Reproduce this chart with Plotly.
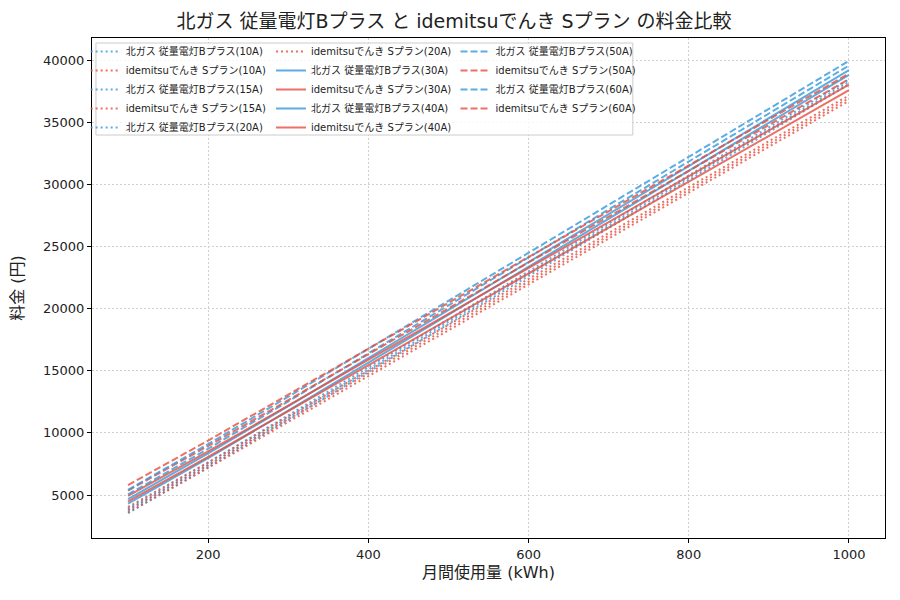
import plotly.graph_objects as go

# 月間使用量 (kWh)
usage = [100, 200, 300, 400, 500, 600, 700, 800, 900, 1000]

# 北ガス 従量電灯Bプラス (円)
kitagas_10a = [3550, 7225, 11037, 14897, 18757, 22617, 26477, 30337, 34197, 38057]
kitagas_15a = [3737, 7412, 11224, 15084, 18944, 22804, 26664, 30524, 34384, 38244]
kitagas_20a = [3924, 7599, 11411, 15271, 19131, 22991, 26851, 30711, 34571, 38431]
kitagas_30a = [4298, 7973, 11785, 15645, 19505, 23365, 27225, 31085, 34945, 38805]
kitagas_40a = [4672, 8347, 12159, 16019, 19879, 23739, 27599, 31459, 35319, 39179]
kitagas_50a = [5046, 8721, 12533, 16393, 20253, 24113, 27973, 31833, 35693, 39553]
kitagas_60a = [5420, 9095, 12907, 16767, 20627, 24487, 28347, 32207, 36067, 39927]

# idemitsuでんき Sプラン (円)
idemitsu_10a = [3600, 7184, 10874, 14564, 18254, 21944, 25634, 29324, 33014, 36704]
idemitsu_15a = [3820, 7404, 11094, 14784, 18474, 22164, 25854, 29544, 33234, 36924]
idemitsu_20a = [4040, 7624, 11314, 15004, 18694, 22384, 26074, 29764, 33454, 37144]
idemitsu_30a = [4480, 8064, 11754, 15444, 19134, 22824, 26514, 30204, 33894, 37584]
idemitsu_40a = [4920, 8504, 12194, 15884, 19574, 23264, 26954, 30644, 34334, 38024]
idemitsu_50a = [5360, 8944, 12634, 16324, 20014, 23704, 27394, 31084, 34774, 38464]
idemitsu_60a = [5800, 9384, 13074, 16764, 20454, 24144, 27834, 31524, 35214, 38904]

amps = ["10A", "15A", "20A", "30A", "40A", "50A", "60A"]
kitagas = [kitagas_10a, kitagas_15a, kitagas_20a, kitagas_30a, kitagas_40a, kitagas_50a, kitagas_60a]
idemitsu = [idemitsu_10a, idemitsu_15a, idemitsu_20a, idemitsu_30a, idemitsu_40a, idemitsu_50a, idemitsu_60a]

BLUE = "rgba(52,152,219,0.8)"
RED = "rgba(231,76,60,0.8)"
FONT = "DejaVu Sans, Noto Sans CJK JP, sans-serif"


def dash_for(amp):
    if amp in ("10A", "15A", "20A"):
        return "2px,3px"
    if amp in ("30A", "40A"):
        return "solid"
    return "7px,3px"


fig = go.Figure()

n = 0
for amp, kg, ide in zip(amps, kitagas, idemitsu):
    for name, vals, color in [
        (f"北ガス 従量電灯Bプラス({amp})", kg, BLUE),
        (f"idemitsuでんき Sプラン({amp})", ide, RED),
    ]:
        # legend split into three columns, 5 / 5 / 4 entries
        leg = "legend" if n < 5 else ("legend2" if n < 10 else "legend3")
        fig.add_trace(go.Scatter(
            x=usage, y=vals, mode="lines", name=name,
            line=dict(color=color, width=2, dash=dash_for(amp)),
            legend=leg,
        ))
        n += 1

legend_style = dict(
    yanchor="top", y=1.002, xanchor="left",
    bgcolor="rgba(0,0,0,0)", borderwidth=0,
    font=dict(family=FONT, size=10, color="#222"),
    tracegroupgap=0,
)

axis_common = dict(
    showline=True, linecolor="black", linewidth=1, mirror=True,
    ticks="outside", ticklen=4, tickcolor="black",
    showgrid=True, gridcolor="#d0d0d0", gridwidth=0.8, griddash="2px,2px",
    zeroline=False, automargin=False, tickformat="d",
    tickfont=dict(family=FONT, size=13, color="#222"),
)

# the page adds an 8px body margin, so the figure is drawn 8px smaller
fig.update_layout(
    width=892, height=592,
    margin=dict(l=84, r=15, t=30, b=62),
    paper_bgcolor="white", plot_bgcolor="white",
    font=dict(family=FONT, color="#222"),
    title=dict(
        text="北ガス 従量電灯Bプラス と idemitsuでんき Sプラン の料金比較",
        x=0.5, xanchor="center", y=0.978, yanchor="middle",
        font=dict(family=FONT, size=19, color="#222"),
    ),
    xaxis=dict(
        range=[55, 1045], tickvals=[200, 400, 600, 800, 1000],
        title=dict(text="月間使用量 (kWh)", standoff=6,
                   font=dict(family=FONT, size=16, color="#222")),
        **axis_common,
    ),
    yaxis=dict(
        range=[1540, 41770], tickvals=[5000, 10000, 15000, 20000, 25000, 30000, 35000, 40000],
        title=dict(text="料金 (円)", standoff=16,
                   font=dict(family=FONT, size=16, color="#222")),
        **axis_common,
    ),
    legend=dict(x=-0.008, **legend_style),
    legend2=dict(x=0.2257, **legend_style),
    legend3=dict(x=0.4584, **legend_style),
    shapes=[dict(
        type="rect", xref="paper", yref="paper",
        x0=0.005, x1=0.682, y0=0.806, y1=0.99,
        line=dict(color="#cccccc", width=1),
        fillcolor="rgba(255,255,255,0.8)", layer="above",
    )],
)

fig.write_html("out.html")
